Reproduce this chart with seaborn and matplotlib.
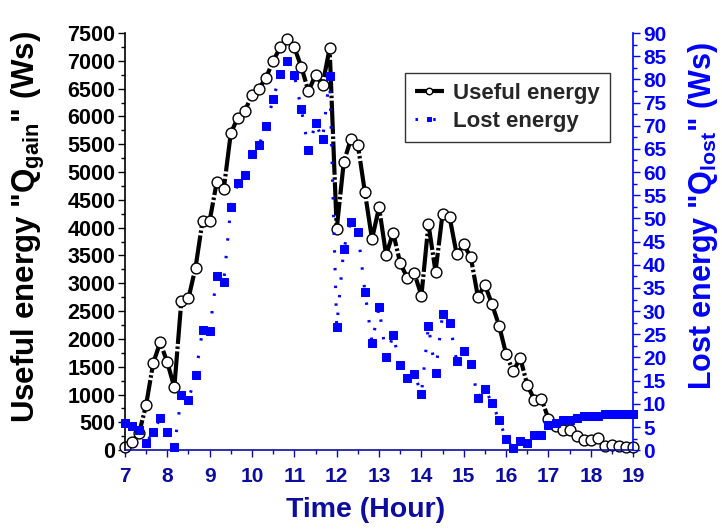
import numpy as np
import pandas as pd
import matplotlib
matplotlib.use("Agg")
import matplotlib.pyplot as plt
import seaborn as sns
from matplotlib.ticker import MultipleLocator

sns.set_style("white")
plt.rcParams['font.family'] = ['Liberation Sans', 'DejaVu Sans']
plt.rcParams['font.weight'] = 'bold'
plt.rcParams['mathtext.fontset'] = 'custom'
plt.rcParams['mathtext.bf'] = 'Liberation Sans:bold'
plt.rcParams['mathtext.rm'] = 'Liberation Sans:bold'

# data: one reading every 10 minutes from 7:00 to 19:00
time_hr = 7 + np.arange(73) / 6

useful_energy = [60, 150, 300, 810, 1560, 1940, 1580, 1130, 2690, 2730,
                 3280, 4125, 4120, 4815, 4690, 5700, 5980, 6100, 6390, 6500,
                 6700, 7000, 7240, 7390, 7240, 6890, 6450, 6750, 6570, 7225,
                 3975, 5175, 5590, 5485, 4635, 3795, 4365, 3510, 3910, 3360,
                 3100, 3180, 2780, 4065, 3210, 4255, 4185, 3520, 3700, 3465,
                 2760, 2970, 2625, 2240, 1730, 1415, 1660, 1170, 910, 920,
                 565, 440, 360, 370, 250, 190, 190, 215, 80, 85,
                 70, 60, 50]

lost_energy = [5.8, 5.2, 4.3, 1.5, 3.9, 6.9, 3.9, 0.7, 11.8, 10.8,
               16.2, 25.9, 25.7, 37.6, 36.3, 52.5, 57.6, 59.4, 63.8, 65.8,
               69.9, 75.8, 81.1, 84.0, 80.9, 73.5, 64.8, 70.6, 67.1, 80.7,
               26.6, 43.4, 49.2, 47.1, 34.2, 23.2, 30.8, 20.1, 24.8, 18.3,
               15.5, 16.4, 12.2, 26.8, 16.7, 29.4, 27.5, 19.2, 21.4, 18.7,
               11.2, 13.3, 10.1, 6.6, 2.4, 0.4, 2.0, 1.6, 3.3, 3.3,
               5.5, 5.9, 6.5, 6.5, 7.0, 7.4, 7.4, 7.3, 7.9, 7.7,
               7.7, 7.8, 7.9]

df = pd.DataFrame({'Time': time_hr, 'Useful': useful_energy, 'Lost': lost_energy})

navy = '#0C0C9E'
blue = '#0000FF'

fig = plt.figure(figsize=(7.22, 5.29), dpi=100)
ax = fig.add_axes([0.173, 0.149, 0.704, 0.7886])
ax2 = ax.twinx()

sns.lineplot(data=df, x='Time', y='Useful', ax=ax, color='black', lw=3,
             linestyle=(0, (8, 0.6, 0.6, 0.6)), marker='o', markersize=7.8,
             markerfacecolor='white', markeredgecolor='black', markeredgewidth=1,
             label='Useful energy', legend=False, clip_on=False)
sns.lineplot(data=df, x='Time', y='Lost', ax=ax2, color=blue, lw=2.2,
             linestyle=(0, (0.8, 5)), marker='s', markersize=6,
             markerfacecolor=blue, markeredgecolor=blue,
             label='Lost energy', legend=False, clip_on=False)

ax.set_xlim(7, 19)
ax.set_ylim(0, 7500)
ax2.set_ylim(0, 90)

ax.xaxis.set_major_locator(MultipleLocator(1))
ax.xaxis.set_minor_locator(MultipleLocator(0.5))
ax.yaxis.set_major_locator(MultipleLocator(500))
ax.yaxis.set_minor_locator(MultipleLocator(250))
ax2.yaxis.set_major_locator(MultipleLocator(5))
ax2.yaxis.set_minor_locator(MultipleLocator(2.5))

ax.tick_params(axis='y', which='major', direction='out', length=5, width=1,
               color='black', labelsize=15.5, labelcolor='black', left=True, pad=2)
ax.tick_params(axis='y', which='minor', direction='out', length=3, width=1,
               color='black', left=True)
ax.tick_params(axis='x', which='major', direction='out', length=5, width=1,
               color=navy, labelsize=15, labelcolor=navy, bottom=True, pad=7)
ax.tick_params(axis='x', which='minor', direction='out', length=3, width=1,
               color=navy, bottom=True)
ax2.tick_params(axis='y', which='major', direction='out', length=5, width=1,
                color=blue, labelsize=15, labelcolor=blue, right=True, pad=2)
ax2.tick_params(axis='y', which='minor', direction='out', length=3, width=1,
                color=blue, right=True)
for lab in ax.get_xticklabels() + ax.get_yticklabels() + ax2.get_yticklabels():
    lab.set_fontweight('bold')

for a in (ax, ax2):
    a.spines['top'].set_visible(False)
ax.spines['right'].set_visible(False)
ax2.spines['left'].set_visible(False)
ax2.spines['bottom'].set_visible(False)
ax.spines['left'].set_color('black')
ax.spines['bottom'].set_color(navy)
ax2.spines['right'].set_color(blue)
for s in ('left', 'bottom'):
    ax.spines[s].set_linewidth(1.2)
ax2.spines['right'].set_linewidth(1.2)

ax.set_xlabel('Time (Hour)', fontsize=20.5, fontweight='bold', color=navy)
ax.set_ylabel(r'Useful energy "Q$_{\mathbf{gain}}$" (Ws)', fontsize=22.5,
              fontweight='bold', color='black')
ax2.set_ylabel(r'Lost energy "Q$_{\mathbf{lost}}$" (Ws)', fontsize=22,
               fontweight='bold', color=blue)
ax.xaxis.set_label_coords(0.474, -0.144)
ax.yaxis.set_label_coords(-0.189, 0.535)
ax2.yaxis.set_label_coords(1.138, 0.561)
ax.xaxis.label.set_va('center')
ax.yaxis.label.set_va('center')
ax2.yaxis.label.set_va('center')

h1, l1 = ax.get_legend_handles_labels()
h2, l2 = ax2.get_legend_handles_labels()
leg = ax2.legend(h1 + h2, l1 + l2, loc='upper left', bbox_to_anchor=(0.551, 0.904),
                 frameon=True, fancybox=False, edgecolor='#333333', framealpha=1,
                 prop={'weight': 'bold', 'size': 16}, handlelength=1.3,
                 handletextpad=0.4, borderpad=0.45, labelspacing=0.3,
                 borderaxespad=0, markerscale=0.6)
leg.get_frame().set_linewidth(1)

fig.savefig('out.png', dpi=100)
